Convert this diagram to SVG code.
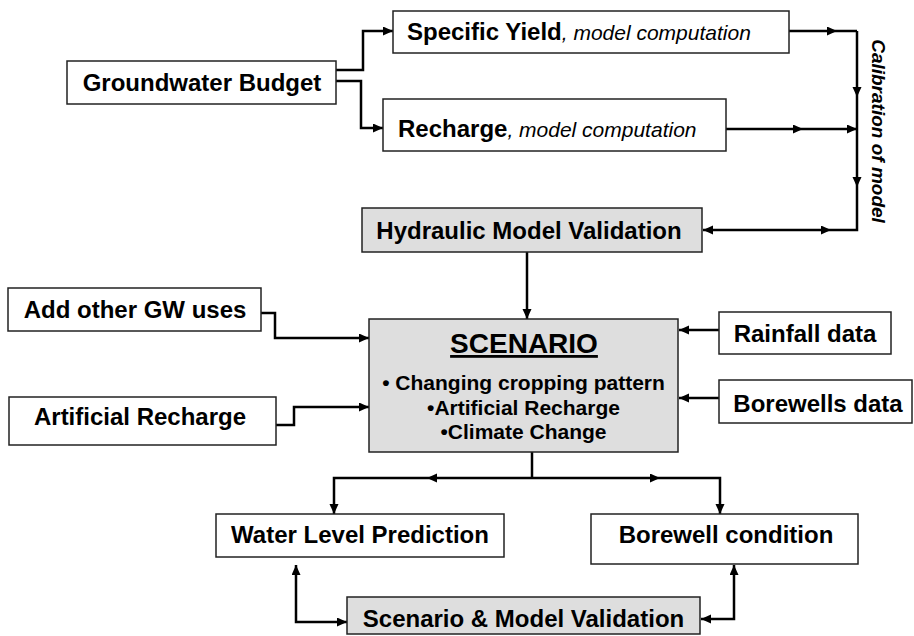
<svg xmlns="http://www.w3.org/2000/svg" width="914" height="636" viewBox="0 0 914 636">
<style>
.box{fill:#ffffff;stroke:#222222;stroke-width:1.5}
.gray{fill:#dedede;stroke:#222222;stroke-width:1.5}
.t{font-family:"Liberation Sans",Arial,sans-serif;font-weight:bold;font-size:24px;fill:#000000}
.it{font-family:"Liberation Sans",Arial,sans-serif;font-style:italic;font-weight:normal;font-size:21px;fill:#000000}
.b{font-family:"Liberation Sans",Arial,sans-serif;font-weight:bold;font-size:21px;fill:#000000}
.c{fill:none;stroke:#000000;stroke-width:2.5}
.a{marker-end:url(#ah)}
.aa{marker-start:url(#ah);marker-end:url(#ah)}
</style>
<defs>
<marker id="ah" markerUnits="userSpaceOnUse" markerWidth="11" markerHeight="10" refX="10" refY="4.5" orient="auto-start-reverse">
<path d="M0,0 L10,4.5 L0,9 z" fill="#000000"/>
</marker>
</defs>
<rect width="914" height="636" fill="#ffffff"/>
<g id="connectors">
<path class="c a" d="M336,70 H363 V31 H393"/>
<path class="c a" d="M336,81 H361 V128 H383"/>
<path class="c a" d="M789,31 H837"/>
<path class="c" d="M837,31 H857"/>
<path class="c a" d="M857,31 V97"/>
<path class="c a" d="M857,97 V187"/>
<path class="c" d="M857,187 V230 H831"/>
<path class="c a" d="M726,129 H803"/>
<path class="c a" d="M803,129 H857"/>
<path class="c aa" d="M703,230 H831"/>
<path class="c a" d="M527,252 V319"/>
<path class="c a" d="M261,313 H275 V338 H369"/>
<path class="c a" d="M276,425 H294 V407 H369"/>
<path class="c a" d="M719,330 H679"/>
<path class="c a" d="M719,398 H679"/>
<path class="c" d="M532,452 V478"/>
<path class="c a" d="M532,478 H427"/>
<path class="c a" d="M427,478 H334 V514"/>
<path class="c a" d="M532,478 H660"/>
<path class="c a" d="M660,478 H720 V514"/>
<path class="c aa" d="M296,565 V622 H347"/>
<path class="c aa" d="M734,565 V619 H701"/>
</g>
<g id="groundwater-budget">
<rect class="box" x="67" y="61" width="269" height="43"/>
<text class="t" x="202" y="91" text-anchor="middle">Groundwater Budget</text>
</g>
<g id="specific-yield">
<rect class="box" x="393" y="11" width="396" height="42"/>
<text x="407" y="40"><tspan class="t">Specific Yield</tspan><tspan class="it">, model computation</tspan></text>
</g>
<g id="recharge">
<rect class="box" x="383" y="99" width="343" height="52"/>
<text x="398" y="137"><tspan class="t">Recharge</tspan><tspan class="it">, model computation</tspan></text>
</g>
<g id="calibration-label">
<text class="b" x="872" y="131" text-anchor="middle" font-style="italic" font-size="19" transform="rotate(90 872 131)" style="font-size:19px;font-style:italic">Calibration of model</text>
</g>
<g id="hydraulic-model-validation">
<rect class="gray" x="362" y="208" width="340" height="44"/>
<text class="t" x="529" y="239" text-anchor="middle">Hydraulic Model Validation</text>
</g>
<g id="add-other-gw-uses">
<rect class="box" x="8" y="288" width="253" height="43"/>
<text class="t" x="135" y="318" text-anchor="middle">Add other GW uses</text>
</g>
<g id="artificial-recharge">
<rect class="box" x="9" y="397" width="267" height="48"/>
<text class="t" x="140" y="425" text-anchor="middle">Artificial Recharge</text>
</g>
<g id="scenario">
<rect class="gray" x="369" y="319" width="309" height="133"/>
<text class="t" x="524" y="353" text-anchor="middle" style="font-size:28px;text-decoration:underline">SCENARIO</text>
<text class="b" x="523.5" y="390" text-anchor="middle">• Changing cropping pattern</text>
<text class="b" x="523.5" y="415" text-anchor="middle">•Artificial Recharge</text>
<text class="b" x="523.5" y="439" text-anchor="middle">•Climate Change</text>
</g>
<g id="rainfall-data">
<rect class="box" x="719" y="312" width="172" height="42"/>
<text class="t" x="805" y="342" text-anchor="middle">Rainfall data</text>
</g>
<g id="borewells-data">
<rect class="box" x="719" y="380" width="193" height="43"/>
<text class="t" x="818" y="412" text-anchor="middle">Borewells data</text>
</g>
<g id="water-level-prediction">
<rect class="box" x="216" y="514" width="288" height="43"/>
<text class="t" x="360" y="543" text-anchor="middle">Water Level Prediction</text>
</g>
<g id="borewell-condition">
<rect class="box" x="591" y="514" width="267" height="50"/>
<text class="t" x="726" y="543" text-anchor="middle">Borewell condition</text>
</g>
<g id="scenario-model-validation">
<rect class="gray" x="347" y="597" width="353" height="37"/>
<text class="t" x="523.5" y="627" text-anchor="middle">Scenario &amp; Model Validation</text>
</g>
</svg>
